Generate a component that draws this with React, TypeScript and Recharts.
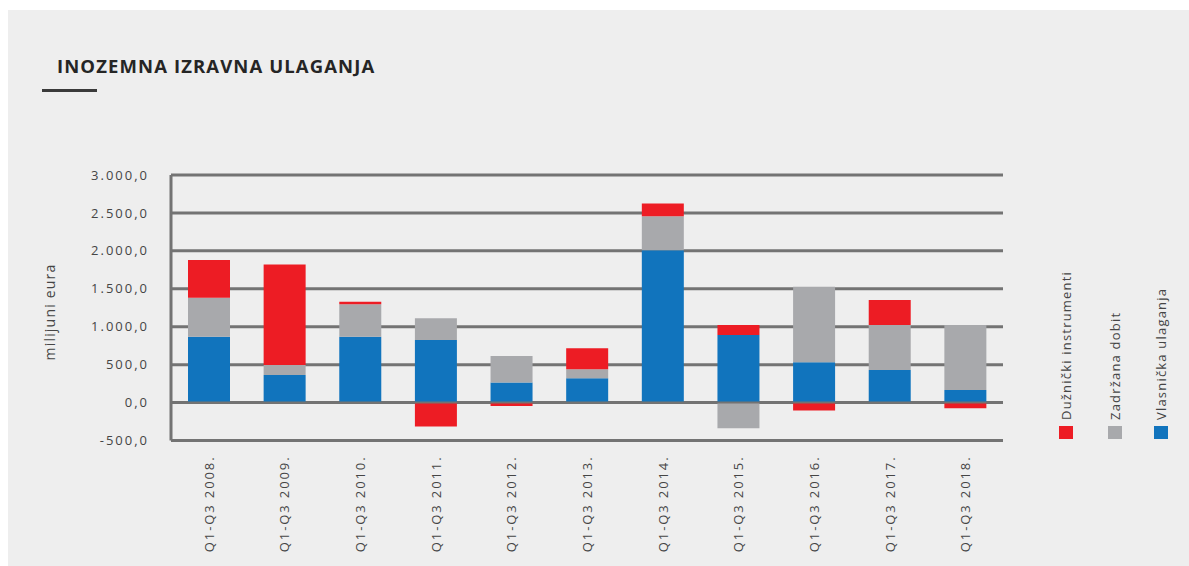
import { BarChart, Bar, XAxis, YAxis, CartesianGrid, ReferenceLine } from 'recharts';

const categories = [
  'Q1-Q3 2008.', 'Q1-Q3 2009.', 'Q1-Q3 2010.', 'Q1-Q3 2011.', 'Q1-Q3 2012.', 'Q1-Q3 2013.',
  'Q1-Q3 2014.', 'Q1-Q3 2015.', 'Q1-Q3 2016.', 'Q1-Q3 2017.', 'Q1-Q3 2018.',
];
const vlasnicka = [868, 364, 868, 825, 263, 321, 2009, 891, 531, 430, 167];
const zadrzana = [514, 132, 427, 285, 351, 118, 448, -337, 995, 592, 855];
const duznicki = [496, 1325, 34, -316, -45, 277, 167, 131, -105, 329, -74];
const yTicks = [-500, 0, 500, 1000, 1500, 2000, 2500, 3000];

const series = [
  { key: 'vlasnicka', name: 'Vlasnička ulaganja', color: '#1174bd' },
  { key: 'zadrzana', name: 'Zadržana dobit', color: '#a8a9ac' },
  { key: 'duznicki', name: 'Dužnički instrumenti', color: '#ed1c24' },
];

const chartData = categories.map((c, i) => ({
  name: c,
  vlasnicka: vlasnicka[i],
  zadrzana: zadrzana[i],
  duznicki: duznicki[i],
}));

const FONT = '"Open Sans", sans-serif';
const TEXT = '#454545';
const GRID = '#737373';

// 3000 -> "3.000,0"
function fmt(v: number) {
  const sign = v < 0 ? '-' : '';
  const s = Math.abs(v).toFixed(0).replace(/\B(?=(\d{3})+(?!\d))/g, '.');
  return `${sign}${s},0`;
}

function XTick({ x, y, payload }: any) {
  return (
    <text
      transform={`translate(${x + 5},${y + 7}) rotate(-90)`}
      textAnchor="end"
      fontSize={13}
      letterSpacing={1.9}
      fontFamily={FONT}
      fill={TEXT}
    >
      {payload.value}
    </text>
  );
}

// legend order left to right as in the picture
const legendItems = [series[2], series[1], series[0]];
const legendX = [1066, 1115, 1161];

export default function App() {
  return (
    <div style={{ position: 'fixed', left: 0, top: 0, width: 1189, height: 566, background: '#fff' }}>
      <div style={{ position: 'absolute', left: 8, top: 10, width: 1181, height: 556, background: '#eeeeee' }} />
      <div style={{
        position: 'absolute', left: 57, top: 53, fontFamily: FONT, fontWeight: 700,
        fontSize: 18.5, color: '#252525', letterSpacing: 1.1, whiteSpace: 'nowrap',
      }}>
        INOZEMNA IZRAVNA ULAGANJA
      </div>
      <div style={{ position: 'absolute', left: 42, top: 89, width: 55, height: 2.5, background: '#3a3a3a' }} />
      <div style={{ position: 'absolute', left: 0, top: 0 }}>
        <BarChart
          width={1189}
          height={566}
          data={chartData}
          stackOffset="sign"
          barSize={42}
          margin={{ top: 175, right: 186, bottom: 95.5, left: 111 }}
        >
          <CartesianGrid vertical={false} stroke={GRID} strokeWidth={3} />
          <XAxis
            dataKey="name"
            height={30}
            axisLine={{ stroke: GRID, strokeWidth: 3 }}
            tickLine={false}
            interval={0}
            tick={<XTick />}
          />
          <YAxis
            width={60}
            domain={[-500, 3000]}
            ticks={yTicks}
            tickFormatter={fmt}
            axisLine={{ stroke: GRID, strokeWidth: 3 }}
            tickLine={false}
            tickMargin={16}
            tick={{ fontSize: 13, fill: TEXT, fontFamily: FONT, letterSpacing: 2 }}
            allowDataOverflow
          />
          {series.map((s) => (
            <Bar key={s.key} dataKey={s.key} name={s.name} stackId="a" fill={s.color} isAnimationActive={false} />
          ))}
          <ReferenceLine y={0} stroke={GRID} strokeWidth={2} />
        </BarChart>
      </div>
      <svg width={1189} height={566} style={{ position: 'absolute', left: 0, top: 0, pointerEvents: 'none' }}>
        <text
          transform="translate(55,312) rotate(-90)"
          textAnchor="middle"
          fontSize={14}
          letterSpacing={1.2}
          fontFamily={FONT}
          fill={TEXT}
        >
          milijuni eura
        </text>
        {legendItems.map((s, i) => (
          <g key={s.key}>
            <rect x={legendX[i] - 7} y={426} width={14} height={13} fill={s.color} />
            <text
              transform={`translate(${legendX[i] + 5},420) rotate(-90)`}
              textAnchor="start"
              fontSize={13}
              letterSpacing={1.2}
              fontFamily={FONT}
              fill={TEXT}
            >
              {s.name}
            </text>
          </g>
        ))}
      </svg>
    </div>
  );
}
